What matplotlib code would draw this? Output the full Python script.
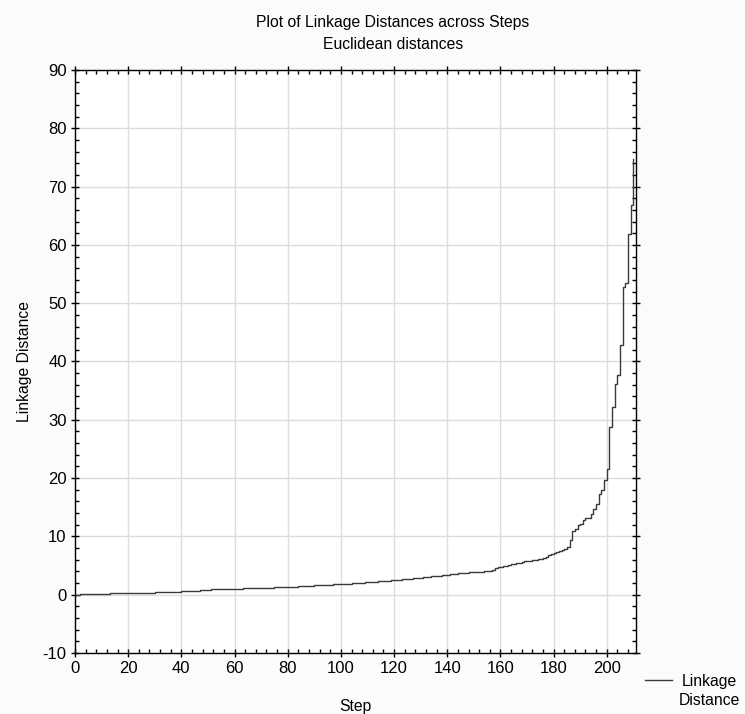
import matplotlib
matplotlib.use("Agg")
import matplotlib.pyplot as plt
from matplotlib.ticker import MultipleLocator
import numpy as np

plt.rcParams['font.family'] = ['Liberation Sans', 'DejaVu Sans']
plt.rcParams['axes.unicode_minus'] = False

# linkage distance at each amalgamation step
distances = [
    0.00, 0.03, 0.06, 0.08, 0.10, 0.12, 0.13, 0.15, 0.16, 0.17,
    0.18, 0.19, 0.20, 0.21, 0.22, 0.23, 0.24, 0.25, 0.27, 0.28,
    0.29, 0.30, 0.31, 0.32, 0.33, 0.34, 0.35, 0.36, 0.37, 0.38,
    0.39, 0.40, 0.41, 0.42, 0.44, 0.45, 0.47, 0.49, 0.51, 0.54,
    0.57, 0.59, 0.61, 0.63, 0.66, 0.69, 0.72, 0.75, 0.79, 0.83,
    0.88, 0.90, 0.92, 0.94, 0.96, 0.97, 0.98, 0.99, 1.00, 1.02,
    1.03, 1.05, 1.06, 1.08, 1.09, 1.11, 1.12, 1.14, 1.15, 1.17,
    1.18, 1.19, 1.21, 1.22, 1.23, 1.25, 1.26, 1.27, 1.29, 1.30,
    1.31, 1.34, 1.36, 1.39, 1.42, 1.45, 1.48, 1.51, 1.54, 1.57,
    1.60, 1.62, 1.65, 1.67, 1.69, 1.72, 1.74, 1.77, 1.79, 1.81,
    1.83, 1.86, 1.89, 1.92, 1.95, 1.98, 2.01, 2.04, 2.07, 2.10,
    2.13, 2.17, 2.20, 2.24, 2.28, 2.31, 2.35, 2.38, 2.42, 2.46,
    2.50, 2.54, 2.58, 2.62, 2.66, 2.70, 2.74, 2.79, 2.84, 2.89,
    2.94, 2.99, 3.04, 3.09, 3.14, 3.19, 3.24, 3.29, 3.34, 3.40,
    3.45, 3.50, 3.55, 3.60, 3.65, 3.70, 3.74, 3.78, 3.82, 3.86,
    3.89, 3.92, 3.95, 3.98, 4.01, 4.05, 4.10, 4.30, 4.55, 4.70,
    4.80, 4.90, 5.00, 5.10, 5.20, 5.30, 5.40, 5.50, 5.60, 5.70,
    5.78, 5.86, 5.94, 6.02, 6.10, 6.20, 6.35, 6.55, 6.80, 7.00,
    7.20, 7.30, 7.45, 7.60, 7.80, 8.20, 9.40, 10.90, 11.30, 11.90,
    12.20, 12.80, 13.10, 13.10, 13.80, 14.70, 15.60, 17.30, 18.00, 19.70,
    21.50, 28.70, 32.20, 36.10, 37.70, 42.90, 52.70, 53.50, 61.80, 66.90,
    74.70,
]
steps = np.arange(len(distances))

x_ticks = [0, 20, 40, 60, 80, 100, 120, 140, 160, 180, 200]
y_ticks = [-10, 0, 10, 20, 30, 40, 50, 60, 70, 80, 90]

fig = plt.figure(figsize=(7.45, 7.14), dpi=100, facecolor='#fbfbfb')
ax = fig.add_axes([0.1007, 0.0854, 0.753, 0.8166])
ax.set_facecolor('white')

ax.step(steps, distances, where='post', color='#3a3a3a', lw=1.0)

ax.set_xlim(0, 211)
ax.set_ylim(-10, 90)
ax.set_xticks(x_ticks)
ax.set_yticks(y_ticks)
ax.xaxis.set_minor_locator(MultipleLocator(4))
ax.yaxis.set_minor_locator(MultipleLocator(2))
ax.grid(True, which='major', color='#dcdcdc', lw=1.0)
ax.set_axisbelow(True)

ax.tick_params(which='major', direction='inout', length=6, width=1,
               top=True, right=True, labelsize=12, colors='black', pad=3)
ax.tick_params(which='minor', direction='in', length=3, width=1,
               top=True, right=True)
for s in ax.spines.values():
    s.set_color('black')
    s.set_linewidth(1.0)

fig.text(0.5275, 0.969, 'Plot of Linkage Distances across Steps',
         ha='center', va='center', fontsize=11.3)
fig.text(0.5275, 0.937, 'Euclidean distances', ha='center', va='center',
         fontsize=11.3)
ax.set_xlabel('Step', fontsize=11.3, labelpad=16)
ax.set_ylabel('Linkage Distance', fontsize=11.3, labelpad=8)

# legend sample outside the plot, bottom right
fig.lines.append(plt.Line2D([0.866, 0.902], [0.0476, 0.0476],
                            transform=fig.transFigure, color='#3a3a3a', lw=1.0))
fig.text(0.952, 0.032, 'Linkage\nDistance', ha='center', va='center',
         fontsize=11.3, linespacing=1.35)

fig.savefig('out.png', dpi=100, facecolor=fig.get_facecolor())
